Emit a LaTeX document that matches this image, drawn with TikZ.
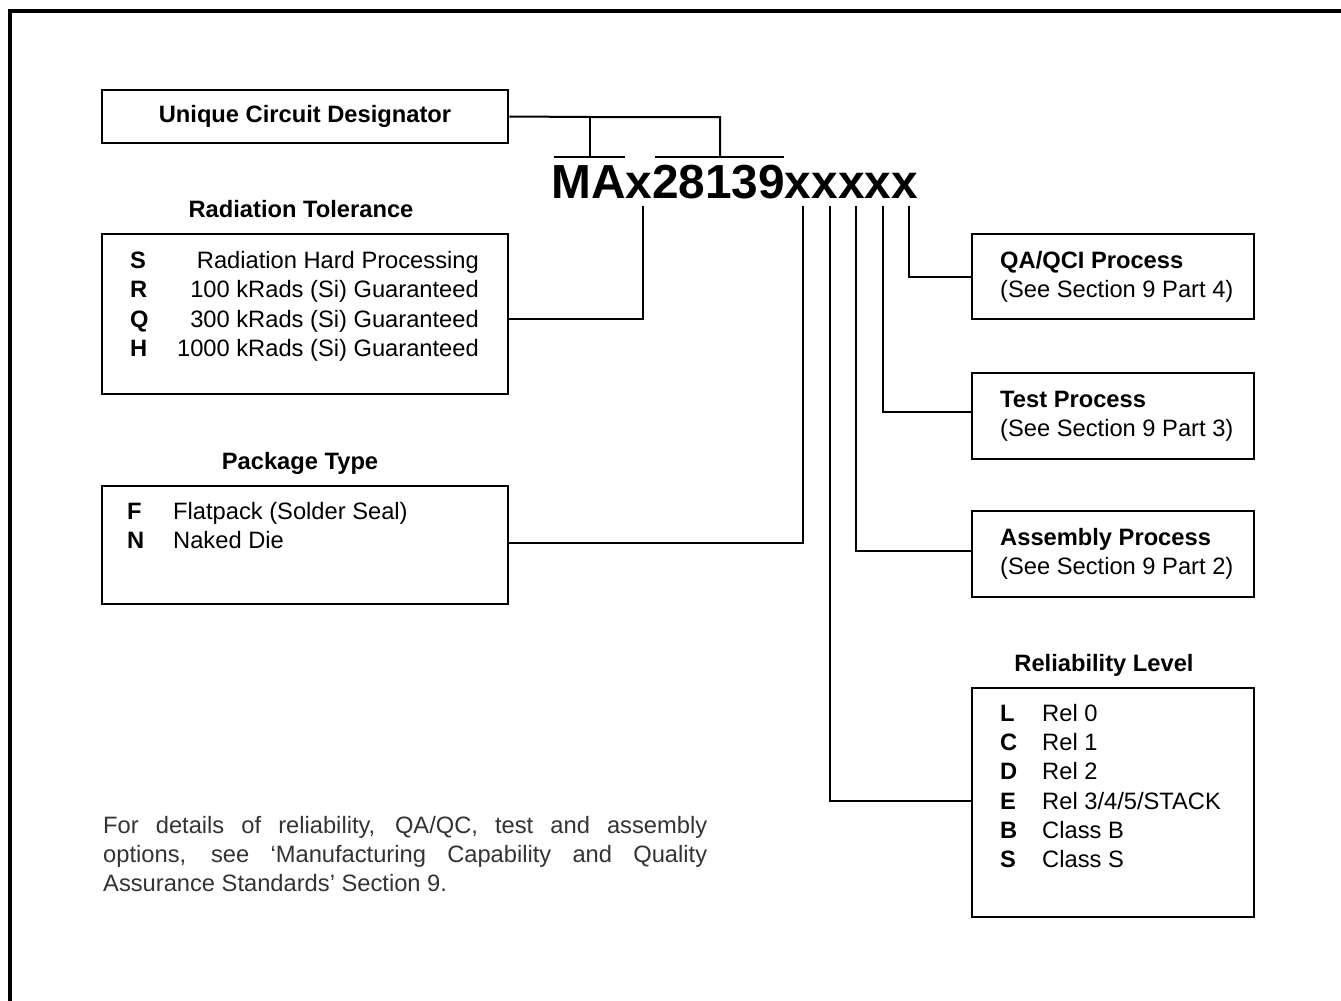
\documentclass[tikz,border=0pt]{standalone}
\usepackage{fontspec}
\setmainfont{Liberation Sans}
\begin{document}
\begin{tikzpicture}[x=1pt,y=-1pt,
  box/.style={draw, line width=2.6pt, inner sep=0pt},
  conn/.style={line width=2pt},
  txt/.style={font=\fontsize{23.7}{29.3}\selectfont, inner sep=0pt},
  btxt/.style={font=\fontsize{23.7}{29.3}\selectfont\bfseries, inner sep=0pt}]
\clip (0,0) rectangle (1341,1001);
\draw[line width=3.5pt] (10,11) rectangle (1420,1080);

% boxes
\node[box, btxt, minimum width=406pt, minimum height=53pt] (ucd) at (305,116.5) {Unique Circuit Designator};
\node[box, minimum width=406pt, minimum height=160pt] (rad) at (305,314) {};
\node[box, minimum width=406pt, minimum height=118pt] (pkg) at (305,545) {};
\node[box, minimum width=282pt, minimum height=85pt] (qa) at (1113,276.5) {};
\node[box, minimum width=282pt, minimum height=86pt] (test) at (1113,416) {};
\node[box, minimum width=282pt, minimum height=86pt] (asm) at (1113,554) {};
\node[box, minimum width=282pt, minimum height=229pt] (rel) at (1113,802.5) {};

% titles
\node[btxt, anchor=base] (radT) at (301,217.5) {Radiation Tolerance};
\node[btxt, anchor=base] (pkgT) at (300,469.5) {Package Type};
\node[btxt, anchor=base] (relT) at (1104,671.5) {Reliability Level};

% radiation rows
\node[btxt, anchor=base west] (rS) at (130,268.5) {S};
\node[btxt, anchor=base west] (rR) at (130,297.8) {R};
\node[btxt, anchor=base west] (rQ) at (130,327.1) {Q};
\node[btxt, anchor=base west] (rH) at (130,356.4) {H};
\node[txt, anchor=base east] (dS) at (479,268.5) {Radiation Hard Processing};
\node[txt, anchor=base east] (dR) at (479,297.8) {100 kRads (Si) Guaranteed};
\node[txt, anchor=base east] (dQ) at (479,327.1) {300 kRads (Si) Guaranteed};
\node[txt, anchor=base east] (dH) at (479,356.4) {1000 kRads (Si) Guaranteed};

% package rows
\node[btxt, anchor=base west] (pF) at (127,519.5) {F};
\node[btxt, anchor=base west] (pN) at (127,548.8) {N};
\node[txt, anchor=base west] (pFd) at (173,519.5) {Flatpack (Solder Seal)};
\node[txt, anchor=base west] (pNd) at (173,548.8) {Naked Die};

% right boxes text
\node[btxt, anchor=base west] (qa1) at (1000,268.5) {QA/QCI Process};
\node[txt, anchor=base west] (qa2) at (1000,297.8) {(See Section 9 Part 4)};
\node[btxt, anchor=base west] (te1) at (1000,407.5) {Test Process};
\node[txt, anchor=base west] (te2) at (1000,436.8) {(See Section 9 Part 3)};
\node[btxt, anchor=base west] (as1) at (1000,545.5) {Assembly Process};
\node[txt, anchor=base west] (as2) at (1000,574.8) {(See Section 9 Part 2)};

% reliability rows
\foreach \k/\d/\i in {L/Rel 0/0, C/Rel 1/1, D/Rel 2/2, E/Rel 3\slash 4\slash 5\slash STACK/3, B/Class B/4, S/Class S/5}{
  \node[btxt, anchor=base west] (rl\i) at (1000,721.5+29.2*\i) {\k};
  \node[txt, anchor=base west] (rd\i) at (1042,721.5+29.2*\i) {\d};
}

% part number
\node[font=\fontsize{47.8}{50}\selectfont\bfseries, anchor=base west, inner sep=0pt] (pn) at (551,198) {MAx28139xxxxx};

% footnote
\node[txt, anchor=north west, text width=604pt, align=justify, text=black!80] (note) at (103,816)
 {For details of reliability, QA/QC, test and assembly\linebreak options, see ‘Manufacturing Capability and Quality\linebreak Assurance Standards’ Section 9.};

% unique circuit designator connectors
\coordinate (j1) at (590,117);
\coordinate (j2) at (720,117);
\coordinate (b1) at (590,157);
\coordinate (b2) at (720,157);
\draw[conn] (ucd.east) -- (j1) -- (j2) -- (b2);
\draw[conn] (j1) -- (b1);
\draw[conn] (554,157) -- (625,157);
\draw[conn] (655,157) -- (784,157);

% taps under the part number
\coordinate (tA) at (643,206);
\coordinate (t1) at (803,206);
\coordinate (t2) at (830,206);
\coordinate (t3) at (856,206);
\coordinate (t4) at (883,206);
\coordinate (t5) at (909,206);
\draw[conn] (tA) |- ([yshift=-5pt]rad.east);
\draw[conn] (t1) |- ([yshift=2pt]pkg.east);
\draw[conn] (t2) |- ([yshift=2pt]rel.west);
\draw[conn] (t3) |- ([yshift=3pt]asm.west);
\draw[conn] (t4) |- ([yshift=4pt]test.west);
\draw[conn] (t5) |- (qa.west);
\end{tikzpicture}
\end{document}
